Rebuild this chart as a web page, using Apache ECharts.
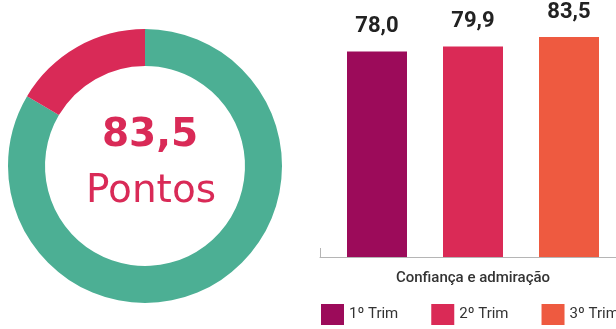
<!DOCTYPE html>
<html>
<head>
<meta charset="utf-8">
<script src="https://cdn.jsdelivr.net/npm/echarts@6/dist/echarts.min.js"></script>
<style>
html,body{margin:0;padding:0;background:#fff;}
#c{width:616px;height:329px;}
</style>
</head>
<body>
<div id="c"></div>
<script>
// Donut values
const donutNames = ['Pontos', 'Restante'];
const donutValues = [83.5, 16.5];
const donutColors = ['#4caf94', '#d92a57'];
const donutTitle = '83,5';
const donutSubtitle = 'Pontos';

// Bar chart
const categories = ['Confiança e admiração'];
const seriesNames = ['1º Trim', '2º Trim', '3º Trim'];
const seriesValues = [[78.0], [79.9], [83.5]];
const seriesColors = ['#9c0b5a', '#da2a56', '#ee5a40'];

const chart = echarts.init(document.getElementById('c'));
const fmt = p => p.value.toFixed(1).replace('.', ',');

const barSeries = seriesNames.map((n, i) => ({
  name: n,
  type: 'bar',
  data: seriesValues[i],
  barWidth: 60,
  barGap: '60%',
  itemStyle: { color: seriesColors[i] },
  label: {
    show: true, position: 'top', distance: 14,
    formatter: fmt,
    fontFamily: 'Roboto', fontWeight: 'bold', fontSize: 22, color: '#222'
  },
  silent: true
}));

chart.setOption({
  animation: false,
  title: [
    { text: donutTitle, left: 145, top: 111, textAlign: 'center',
      textStyle: { fontFamily: 'DejaVu Sans', fontWeight: 'bold', fontSize: 39, color: '#d92a57' } },
    { text: donutSubtitle, left: 146, top: 167, textAlign: 'center',
      textStyle: { fontFamily: 'DejaVu Sans', fontWeight: 'normal', fontSize: 39, color: '#d92a57' } }
  ],
  legend: {
    data: seriesNames,
    left: 316, top: 299, width: 400,
    itemWidth: 23, itemHeight: 21, itemGap: 33,
    icon: 'rect',
    textStyle: { fontFamily: 'Roboto', fontSize: 15, color: '#333' },
    selectedMode: false
  },
  grid: { left: 320, width: 306, top: 20, bottom: 72, outerBoundsMode: 'none', containLabel: false },
  xAxis: {
    type: 'category',
    data: categories,
    axisLine: { lineStyle: { color: '#b5b5b5', width: 1 } },
    axisTick: { show: true, inside: true, length: 9, lineStyle: { color: '#b5b5b5' } },
    axisLabel: { margin: 14, fontFamily: 'Roboto', fontWeight: 500, fontSize: 15, color: '#333' }
  },
  yAxis: { type: 'value', min: 0, max: 90, show: false, splitLine: { show: false } },
  series: [
    {
      type: 'pie',
      center: [145, 166],
      radius: [100, 137],
      startAngle: 90,
      clockwise: true,
      silent: true,
      label: { show: false },
      labelLine: { show: false },
      data: donutNames.map((n, i) => ({ name: n, value: donutValues[i], itemStyle: { color: donutColors[i] } }))
    },
    ...barSeries
  ]
});
</script>
</body>
</html>
